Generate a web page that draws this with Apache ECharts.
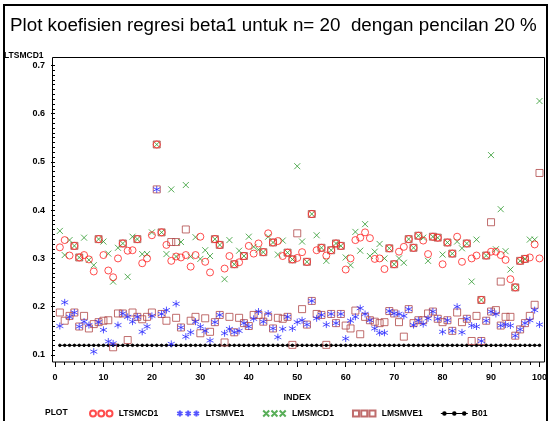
<!DOCTYPE html>
<html><head><meta charset="utf-8">
<script src="https://cdn.jsdelivr.net/npm/echarts@6/dist/echarts.min.js"></script>
<style>html,body{margin:0;padding:0;background:#fff}#c{width:550px;height:421px}</style>
</head><body><div id="c"></div>
<script>
// Index 1..100
var LTSMCD1 = [0.323,0.338,0.306,0.326,0.302,0.307,0.298,0.273,0.340,0.307,0.275,0.261,0.300,0.331,0.316,0.317,0.340,0.290,0.300,0.348,
0.536,0.354,0.328,0.295,0.304,0.302,0.307,0.283,0.307,0.345,0.293,0.271,0.340,0.328,0.279,0.305,0.288,0.292,0.305,0.326,
0.310,0.331,0.313,0.352,0.333,0.336,0.305,0.312,0.298,0.301,0.313,0.293,0.392,0.317,0.322,0.306,0.317,0.331,0.326,0.277,
0.300,0.338,0.343,0.354,0.342,0.299,0.300,0.278,0.321,0.288,0.314,0.324,0.340,0.322,0.347,0.337,0.309,0.345,0.343,0.288,
0.333,0.310,0.345,0.293,0.331,0.300,0.306,0.214,0.306,0.314,0.314,0.307,0.297,0.257,0.240,0.295,0.299,0.302,0.329,0.300];
var LTSMVE1 = [0.160,0.209,0.179,0.188,0.159,0.169,0.162,0.107,0.168,0.152,0.128,0.124,0.162,0.186,0.179,0.169,0.179,0.148,0.159,0.181,
0.443,0.185,0.193,0.123,0.206,0.157,0.138,0.147,0.169,0.159,0.150,0.130,0.168,0.183,0.145,0.154,0.147,0.150,0.166,0.159,
0.175,0.190,0.169,0.186,0.155,0.137,0.154,0.179,0.155,0.168,0.172,0.163,0.212,0.176,0.183,0.163,0.185,0.166,0.185,0.134,
0.171,0.179,0.197,0.185,0.172,0.155,0.146,0.146,0.191,0.186,0.185,0.181,0.195,0.162,0.172,0.164,0.176,0.190,0.175,0.148,
0.172,0.150,0.200,0.147,0.175,0.161,0.159,0.129,0.171,0.190,0.185,0.161,0.163,0.161,0.140,0.153,0.166,0.172,0.193,0.163];
var LMSMCD1 = [0.357,0.307,0.338,0.326,0.302,0.343,0.297,0.286,0.340,0.335,0.310,0.252,0.322,0.331,0.262,0.345,0.340,0.309,0.309,0.354,
0.536,0.354,0.309,0.443,0.304,0.334,0.452,0.304,0.344,0.299,0.317,0.305,0.340,0.328,0.257,0.338,0.288,0.316,0.305,0.345,
0.324,0.318,0.313,0.345,0.333,0.308,0.337,0.312,0.298,0.491,0.335,0.293,0.392,0.348,0.322,0.295,0.317,0.331,0.326,0.302,
0.286,0.355,0.316,0.371,0.305,0.314,0.330,0.300,0.321,0.288,0.300,0.291,0.340,0.322,0.347,0.343,0.295,0.345,0.343,0.308,
0.333,0.310,0.335,0.321,0.331,0.252,0.339,0.214,0.306,0.514,0.319,0.402,0.315,0.277,0.240,0.295,0.299,0.339,0.339,0.626];
// LMSMVE1 squares: lower group and upper group (null = no mark)
var LMSMVE1_low = [0.188,0.171,0.181,0.188,0.159,0.181,0.155,0.164,0.168,0.171,0.172,0.116,0.186,0.186,0.131,0.188,0.179,0.174,0.179,0.188,
0.443,0.185,0.171,null,0.177,0.157,null,0.171,0.179,0.145,0.176,0.148,0.168,0.183,0.126,0.179,0.147,0.177,0.166,0.160,
0.183,0.183,0.169,0.179,0.155,0.177,0.175,0.179,0.121,null,0.195,0.163,0.212,0.185,0.183,0.121,0.185,0.166,0.185,0.161,
0.155,0.192,0.143,0.179,0.172,0.169,0.166,0.168,0.191,0.186,0.168,0.138,0.195,0.166,0.172,0.172,0.186,0.190,0.175,0.168,
0.172,0.150,0.188,0.168,0.175,0.129,0.181,0.129,0.171,0.190,0.193,0.161,0.179,0.179,0.140,0.153,0.166,0.181,0.204,null];
var LMSMVE1_up = [null,null,null,0.326,0.302,null,null,null,0.340,null,null,null,null,0.331,null,null,0.340,null,null,null,
0.536,0.354,null,0.334,0.334,null,0.360,null,null,null,null,null,0.340,0.328,null,null,0.288,null,0.305,null,
null,null,0.313,null,0.333,null,null,0.312,0.298,0.352,null,0.293,0.392,null,0.322,null,0.317,0.331,0.326,null,
null,null,null,null,null,null,null,null,0.321,0.288,null,null,0.340,0.322,0.347,null,null,0.345,0.343,null,
0.333,0.310,null,null,0.331,null,null,0.214,0.306,0.375,null,0.252,null,null,0.240,0.295,0.299,null,null,0.477];
var B01 = [0.12,0.12,0.12,0.12,0.12,0.12,0.12,0.12,0.12,0.12,0.12,0.12,0.12,0.12,0.12,0.12,0.12,0.12,0.12,0.12,
0.12,0.12,0.12,0.12,0.12,0.12,0.12,0.12,0.12,0.12,0.12,0.12,0.12,0.12,0.12,0.12,0.12,0.12,0.12,0.12,
0.12,0.12,0.12,0.12,0.12,0.12,0.12,0.12,0.12,0.12,0.12,0.12,0.12,0.12,0.12,0.12,0.12,0.12,0.12,0.12,
0.12,0.12,0.12,0.12,0.12,0.12,0.12,0.12,0.12,0.12,0.12,0.12,0.12,0.12,0.12,0.12,0.12,0.12,0.12,0.12,
0.12,0.12,0.12,0.12,0.12,0.12,0.12,0.12,0.12,0.12,0.12,0.12,0.12,0.12,0.12,0.12,0.12,0.12,0.12,0.12];

function pairs(arr){ var out=[]; for(var k=0;k<arr.length;k++){ if(arr[k]!==null) out.push([k+1,arr[k]]); } return out; }

var RED='#ff2020', BLUE='#2a2aff', GREEN='#2e9a2e', BROWN='#b04848';
var STAR='path://M4,0L4,8M0.5,2L7.5,6M0.5,6L7.5,2';
var XS='path://M0,0L8,8M0,8L8,0';
var LBL_FONT='"Liberation Sans",Arial,sans-serif';

var chart = echarts.init(document.getElementById('c'), null, {renderer:'canvas'});
chart.setOption({
  animation:false,
  backgroundColor:'#fff',
  title:{text:'Plot koefisien regresi beta1 untuk n= 20  dengan pencilan 20 %', left:10, top:16, padding:0,
    textStyle:{fontFamily:'"Liberation Sans",Arial,sans-serif', fontSize:18.8, fontWeight:'normal', color:'#000'}},
  grid:{left:55, right:8.3, top:65.3, bottom:66, containLabel:false},
  xAxis:{type:'value', min:0, max:100, interval:10, offset:7,
    name:'INDEX', nameLocation:'middle', nameGap:31,
    nameTextStyle:{fontFamily:LBL_FONT, fontWeight:'bold', fontSize:9, color:'#000'},
    axisLine:{show:false}, splitLine:{show:false},
    axisTick:{show:true, length:5, lineStyle:{color:'#000'}},
    minorTick:{show:true, splitNumber:5, length:3, lineStyle:{color:'#000'}},
    axisLabel:{margin:11, fontFamily:LBL_FONT, fontWeight:'bold', fontSize:9, color:'#000'}},
  yAxis:{type:'value', min:0.1, max:0.7, interval:0.1, offset:3,
    axisLine:{show:false}, splitLine:{show:false},
    axisTick:{show:true, length:4, lineStyle:{color:'#000'}},
    minorTick:{show:true, splitNumber:10, length:2, lineStyle:{color:'#000'}},
    axisLabel:{margin:7, fontFamily:LBL_FONT, fontWeight:'bold', fontSize:9, color:'#000',
      formatter:function(v){return v.toFixed(1);}}},
  legend:{left:84, top:404, itemGap:18, itemWidth:27, itemHeight:6,
    textStyle:{fontFamily:LBL_FONT, fontWeight:'bold', fontSize:8.5, color:'#000', padding:[0,0,0,-1]},
    data:[
      {name:'LTSMCD1', icon:'path://M0,4a4,4 0 1,0 8,0a4,4 0 1,0 -8,0M11,4a4,4 0 1,0 8,0a4,4 0 1,0 -8,0M22,4a4,4 0 1,0 8,0a4,4 0 1,0 -8,0'},
      {name:'LTSMVE1', icon:'path://M4,0L4,8M0.5,2L7.5,6M0.5,6L7.5,2M15,0L15,8M11.5,2L18.5,6M11.5,6L18.5,2M26,0L26,8M22.5,2L29.5,6M22.5,6L29.5,2'},
      {name:'LMSMCD1', icon:'path://M0,0L8,8M0,8L8,0M11,0L19,8M11,8L19,0M22,0L30,8M22,8L30,0'},
      {name:'LMSMVE1', icon:'path://M0,0H8V8H0ZM11,0H19V8H11ZM22,0H30V8H22Z'},
      {name:'B01', icon:'path://M0,3.4H30V4.6H0ZM1.5,4a2.5,2.5 0 1,1 5,0a2.5,2.5 0 1,1 -5,0M12.5,4a2.5,2.5 0 1,1 5,0a2.5,2.5 0 1,1 -5,0M23.5,4a2.5,2.5 0 1,1 5,0a2.5,2.5 0 1,1 -5,0'}
    ]},
  graphic:[
    {type:'rect', shape:{x:4,y:5,width:543,height:430}, style:{fill:'none', stroke:'#000', lineWidth:2}, silent:true},
    {type:'rect', shape:{x:52.5,y:57.5,width:492,height:304.5}, style:{fill:'none', stroke:'#000', lineWidth:1}, silent:true},
    {type:'text', left:4, top:51, style:{text:'LTSMCD1', font:'bold 8.5px '+LBL_FONT, fill:'#000'}},
    {type:'text', left:45, top:408, style:{text:'PLOT', font:'bold 8.5px '+LBL_FONT, fill:'#000'}}
  ],
  series:[
    {name:'B01', type:'line', data:pairs(B01), symbol:'circle', symbolSize:2.5, showSymbol:true,
      lineStyle:{color:'#000', width:1}, itemStyle:{color:'#000', borderColor:'#000'}, z:1},
    {name:'LMSMVE1', type:'scatter', data:pairs(LMSMVE1_low), symbol:'rect', symbolSize:7,
      itemStyle:{color:'rgba(0,0,0,0)', borderColor:BROWN, borderWidth:1}, z:2},
    {name:'LMSMVE1', type:'scatter', data:pairs(LMSMVE1_up), symbol:'rect', symbolSize:7,
      itemStyle:{color:'rgba(0,0,0,0)', borderColor:BROWN, borderWidth:1}, z:2},
    {name:'LTSMVE1', type:'scatter', data:pairs(LTSMVE1), symbol:STAR, symbolSize:7,
      itemStyle:{color:'rgba(0,0,0,0)', borderColor:BLUE, borderWidth:1}, z:3},
    {name:'LMSMCD1', type:'scatter', data:pairs(LMSMCD1), symbol:XS, symbolSize:6,
      itemStyle:{color:'rgba(0,0,0,0)', borderColor:GREEN, borderWidth:1}, z:3},
    {name:'LTSMCD1', type:'scatter', data:pairs(LTSMCD1), symbol:'circle', symbolSize:7,
      itemStyle:{color:'rgba(0,0,0,0)', borderColor:RED, borderWidth:1}, z:4}
  ]
});
</script></body></html>
